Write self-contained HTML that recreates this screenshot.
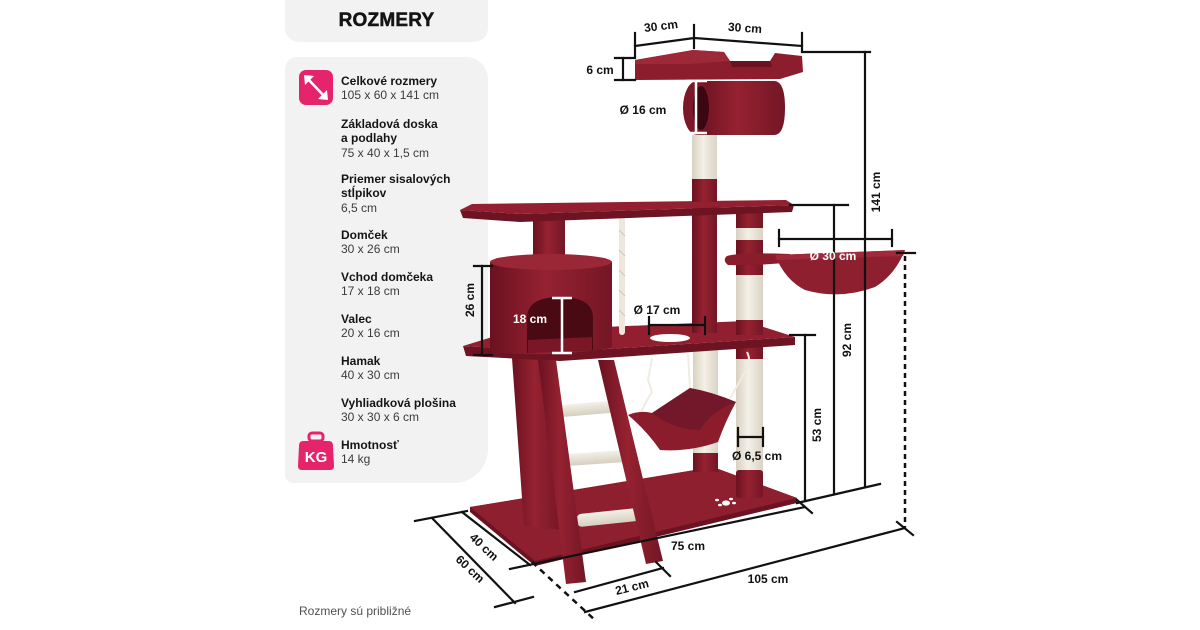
<!DOCTYPE html>
<html><head><meta charset="utf-8">
<style>
html,body{margin:0;padding:0;background:#fff;}
body{width:1200px;height:630px;position:relative;overflow:hidden;font-family:"Liberation Sans",Arial,sans-serif;}
.hdr{position:absolute;left:285px;top:-14px;width:203px;height:56px;background:#f2f2f2;border-radius:14px;}
.hdr span{position:absolute;left:0;right:0;top:24px;text-align:center;font-size:19px;font-weight:bold;color:#141414;letter-spacing:0.2px;-webkit-text-stroke:0.5px #141414;}
.panel{position:absolute;left:285px;top:57px;width:203px;height:426px;background:#f2f2f2;border-radius:12px 22px 34px 8px;}
.g{position:absolute;left:341px;font-size:12px;line-height:14.3px;}
.g b{display:block;color:#151515;font-weight:bold;}
.g i{display:block;font-style:normal;color:#3c3c3c;}
.foot{position:absolute;left:299px;top:604px;font-size:12px;color:#505050;}
svg{position:absolute;left:0;top:0;}
</style></head>
<body>
<div class="hdr"><span>ROZMERY</span></div>
<div class="panel"></div>

<div class="g" style="top:74px"><b>Celkové rozmery</b><i>105 x 60 x 141 cm</i></div>
<div class="g" style="top:117px"><b>Základová doska</b><b>a podlahy</b><i>75 x 40 x 1,5 cm</i></div>
<div class="g" style="top:172px"><b>Priemer sisalových</b><b>stĺpikov</b><i>6,5 cm</i></div>
<div class="g" style="top:228px"><b>Domček</b><i>30 x 26 cm</i></div>
<div class="g" style="top:270px"><b>Vchod domčeka</b><i>17 x 18 cm</i></div>
<div class="g" style="top:312px"><b>Valec</b><i>20 x 16 cm</i></div>
<div class="g" style="top:354px"><b>Hamak</b><i>40 x 30 cm</i></div>
<div class="g" style="top:396px"><b>Vyhliadková plošina</b><i>30 x 30 x 6 cm</i></div>
<div class="g" style="top:438px"><b>Hmotnosť</b><i>14 kg</i></div>
<div class="foot">Rozmery sú približné</div>

<svg width="1200" height="630" viewBox="0 0 1200 630" xmlns="http://www.w3.org/2000/svg">
<defs>
<linearGradient id="rc" x1="0" x2="1" y1="0" y2="0">
<stop offset="0" stop-color="#6a1120"/><stop offset="0.45" stop-color="#952231"/><stop offset="1" stop-color="#741625"/>
</linearGradient>
<linearGradient id="sc" x1="0" x2="1" y1="0" y2="0">
<stop offset="0" stop-color="#d8d1c2"/><stop offset="0.45" stop-color="#f4f0e7"/><stop offset="1" stop-color="#dad3c5"/>
</linearGradient>
<linearGradient id="rung" x1="0" x2="0" y1="0" y2="1">
<stop offset="0" stop-color="#f4f0e7"/><stop offset="1" stop-color="#d6cfc0"/>
</linearGradient>
</defs>

<!-- icons -->
<rect x="299" y="70" width="34" height="35" rx="7" fill="#e6246b"/>
<g stroke="#fff" stroke-width="2.6" fill="#fff" stroke-linecap="round">
<line x1="307" y1="78" x2="325" y2="97"/>
</g>
<polygon points="304,75 314,76 305,85" fill="#fff"/>
<polygon points="328,100 318,99 327,90" fill="#fff"/>
<rect x="309" y="433" width="14" height="8" rx="3" fill="none" stroke="#e6246b" stroke-width="3"/>
<path d="M303,441 L329,441 Q333,441 333,446 L334,466 Q334,470 330,470 L302,470 Q298,470 298,466 L299,446 Q299,441 303,441 Z" fill="#e6246b"/>
<text x="316" y="462" text-anchor="middle" font-family="Liberation Sans, sans-serif" font-weight="bold" font-size="15" fill="#fff">KG</text>

<!-- base -->
<path d="M470,507 L713,467 L797,498 L797,503 L535,566 L470,512 Z" fill="#6c1221"/>
<path d="M470,507 L713,467 L797,498 L535,561 Z" fill="#8d1f2e"/>
<g fill="#fff">
<ellipse cx="726" cy="503" rx="4" ry="2.6"/>
<ellipse cx="717" cy="500" rx="2" ry="1.3"/><ellipse cx="720" cy="505" rx="2" ry="1.3"/>
<ellipse cx="731" cy="499" rx="2" ry="1.3"/><ellipse cx="734" cy="503" rx="2" ry="1.3"/>
</g>

<!-- lower posts -->
<rect x="693" y="350" width="25" height="105" fill="url(#sc)"/>
<rect x="693" y="453" width="25" height="19" fill="url(#rc)"/>
<rect x="736" y="345" width="27" height="127" fill="url(#sc)"/>
<rect x="736" y="470" width="27" height="28" rx="3" fill="url(#rc)"/>
<rect x="736" y="345" width="27" height="14" fill="url(#rc)"/>

<!-- hammock strings -->
<g stroke="#f1ece2" stroke-width="2" fill="none">
<path d="M652,358 L648,380 L652,392 L646,402 L640,414"/>
<line x1="688" y1="354" x2="690" y2="390"/>
<path d="M747,352 Q752,362 745,372 L728,402"/>
</g>
<!-- hammock -->
<path d="M628,415 Q640,410 652,413 L690,388 Q712,392 736,402 Q726,420 718,442 Q690,452 660,450 Q646,430 628,415 Z" fill="#8a1c2b"/>
<path d="M652,413 L690,388 Q712,392 736,402 Q710,412 700,430 Q675,430 652,413 Z" fill="#73172a"/>

<!-- left leg -->
<path d="M512,358 L548,358 L562,530 L524,526 Z" fill="url(#rc)"/>

<!-- middle platform -->
<path d="M463,346 L560,352 L795,337 L795,345 L560,361 L466,356 Z" fill="#6e1322"/>
<path d="M463,346 L512,331 L745,321 L795,337 L560,352 Z" fill="#911f2f"/>
<ellipse cx="670" cy="338" rx="20" ry="4" fill="#fff"/>

<!-- main post & right striped post -->
<rect x="692" y="205" width="25" height="128" fill="url(#rc)"/>
<rect x="736" y="210" width="27" height="125" fill="url(#rc)"/>
<rect x="736" y="228" width="27" height="12" fill="url(#sc)"/>
<rect x="736" y="275" width="27" height="45" fill="url(#sc)"/>

<!-- rope -->
<rect x="619" y="217" width="6" height="118" rx="3" fill="#eee8dc"/>
<g stroke="#cfc6b4" stroke-width="1"><line x1="619" y1="230" x2="625" y2="236"/><line x1="619" y1="250" x2="625" y2="256"/><line x1="619" y1="270" x2="625" y2="276"/><line x1="619" y1="290" x2="625" y2="296"/><line x1="619" y1="310" x2="625" y2="316"/></g>

<!-- bowl shelf & bowl -->
<path d="M727,256 Q740,252 790,254 L792,262 Q760,266 728,265 Q722,260 727,256 Z" fill="#8a1c2b"/>
<path d="M775,255 L905,250 Q895,275 875,287 Q840,300 805,290 Q785,280 775,255 Z" fill="#8d1f2e"/>
<path d="M775,255 L905,250 L903,256 L777,260 Z" fill="#a02a3a"/>

<!-- house post & house -->
<rect x="533" y="215" width="32" height="48" fill="url(#rc)"/>
<path d="M490,262 L612,262 L612,348 Q551,358 490,352 Z" fill="url(#rc)"/>
<ellipse cx="551" cy="262" rx="61" ry="8" fill="#9a2736"/>
<path d="M527,353 L527,318 Q527,297 560,297 Q593,297 593,318 L593,350 Z" fill="#4a0a14"/>
<path d="M528,340 L592,337 L592,350 L528,353 Z" fill="#7a1626"/>

<!-- upper platform -->
<path d="M460,210 L520,214 L794,205 L792,212 L520,222 L463,218 Z" fill="#6e1322"/>
<path d="M460,210 L472,204 L786,200 L794,205 L520,214 Z" fill="#931f30"/>

<!-- post above upper platform -->
<rect x="692" y="178" width="25" height="24" fill="url(#rc)"/>
<rect x="692" y="135" width="25" height="44" fill="url(#sc)"/>

<!-- cylinder -->
<path d="M697,81 L774,81 Q785,81 785,108 Q785,135 774,135 L697,135 Z" fill="url(#rc)"/>
<ellipse cx="697" cy="108" rx="14" ry="27" fill="#7d1828"/>
<ellipse cx="701" cy="108" rx="8" ry="22" fill="#3c0710"/>

<!-- top platform -->
<path d="M635,60 L693,50 L724,52 L730,61 L770,61 L775,53 L802,56 L803,72 L780,79 L635,80 Z" fill="#8b1d2c"/>
<path d="M635,60 L693,50 L724,52 L730,61 L690,64 L635,64 Z" fill="#9c2838"/>
<path d="M730,61 L770,61 L772,67 L732,67 Z" fill="#6a1221"/>

<!-- ladder -->
<g transform="rotate(-5 585 409)"><rect x="553" y="403" width="64" height="12" rx="6" fill="url(#rung)"/></g>
<g transform="rotate(-4 596 458)"><rect x="565" y="452" width="62" height="12" rx="6" fill="url(#rung)"/></g>
<g transform="rotate(-6 608 517)"><rect x="576" y="511" width="64" height="13" rx="6" fill="url(#rung)"/></g>
<path d="M538,360 L556,360 L586,582 L566,584 Z" fill="url(#rc)"/>
<path d="M598,360 L614,360 L663,561 L646,564 Z" fill="url(#rc)"/>

<!-- dimension lines black -->
<g stroke="#111" stroke-width="2.2" fill="none" stroke-linecap="square">
<line x1="635" y1="33" x2="635" y2="56"/>
<line x1="694" y1="25" x2="694" y2="48"/>
<line x1="802" y1="33" x2="802" y2="51"/>
<line x1="635" y1="46" x2="694" y2="38"/>
<line x1="694" y1="38" x2="802" y2="46"/>
<line x1="802" y1="52" x2="870" y2="52"/>
<line x1="623" y1="58" x2="623" y2="80"/>
<line x1="615" y1="58" x2="635" y2="58"/>
<line x1="615" y1="80" x2="635" y2="80"/>
<line x1="865" y1="52" x2="865" y2="487"/>
<line x1="790" y1="205" x2="848" y2="205"/>
<line x1="834" y1="205" x2="834" y2="494"/>
<line x1="790" y1="335" x2="815" y2="335"/>
<line x1="805" y1="335" x2="805" y2="501"/>
<line x1="797" y1="503" x2="880" y2="484"/>
<line x1="779" y1="239" x2="892" y2="239"/>
<line x1="779" y1="230" x2="779" y2="246"/>
<line x1="892" y1="230" x2="892" y2="246"/>
<line x1="738" y1="437" x2="763" y2="437"/>
<line x1="738" y1="428" x2="738" y2="446"/>
<line x1="763" y1="428" x2="763" y2="446"/>
<line x1="649" y1="325" x2="705" y2="325"/>
<line x1="649" y1="317" x2="649" y2="334"/>
<line x1="705" y1="317" x2="705" y2="334"/>
<line x1="482" y1="266" x2="482" y2="355"/>
<line x1="474" y1="266" x2="492" y2="266"/>
<line x1="474" y1="355" x2="492" y2="355"/>
<line x1="897" y1="253" x2="915" y2="253"/>
<!-- bottom -->
<line x1="415" y1="521" x2="467" y2="511"/>
<line x1="462" y1="512" x2="530" y2="565"/>
<line x1="432" y1="518" x2="515" y2="603"/>
<line x1="495" y1="607" x2="533" y2="597"/>
<line x1="510" y1="569" x2="805" y2="507"/>
<line x1="797" y1="500" x2="812" y2="513"/>
<line x1="575" y1="592" x2="663" y2="568"/>
<line x1="656" y1="562" x2="670" y2="576"/>
<line x1="585" y1="612" x2="905" y2="528"/>
<line x1="897" y1="522" x2="913" y2="535"/>
</g>
<line x1="905" y1="256" x2="905" y2="527" stroke="#111" stroke-width="2.5" stroke-dasharray="5,4"/>
<line x1="532" y1="562" x2="596" y2="621" stroke="#111" stroke-width="2.5" stroke-dasharray="6,5"/>

<!-- white dim lines -->
<g stroke="#fff" stroke-width="2.5" fill="none">
<line x1="696" y1="81" x2="696" y2="133"/>
<line x1="686" y1="81" x2="707" y2="81"/>
<line x1="686" y1="133" x2="707" y2="133"/>
<line x1="562" y1="298" x2="562" y2="353"/>
<line x1="552" y1="298" x2="572" y2="298"/>
<line x1="552" y1="353" x2="572" y2="353"/>
</g>

<!-- labels -->
<g font-family="Liberation Sans, sans-serif" font-weight="bold" font-size="12" fill="#111" text-anchor="middle" dominant-baseline="central">
<text x="661" y="26" transform="rotate(-7 661 26)">30 cm</text>
<text x="745" y="28" transform="rotate(4 745 28)">30 cm</text>
<text x="600" y="70">6 cm</text>
<text x="643" y="110">Ø 16 cm</text>
<text x="876" y="192" transform="rotate(-90 876 192)">141 cm</text>
<text x="847" y="340" transform="rotate(-90 847 340)">92 cm</text>
<text x="817" y="425" transform="rotate(-90 817 425)">53 cm</text>
<text x="757" y="456">Ø 6,5 cm</text>
<text x="657" y="310">Ø 17 cm</text>
<text x="470" y="300" transform="rotate(-90 470 300)">26 cm</text>
<text x="688" y="546">75 cm</text>
<text x="768" y="579">105 cm</text>
<text x="632" y="587" transform="rotate(-14 632 587)">21 cm</text>
<text x="484" y="547" transform="rotate(43 484 547)">40 cm</text>
<text x="470" y="569" transform="rotate(43 470 569)">60 cm</text>
<text x="833" y="256" fill="#fff">Ø 30 cm</text>
<text x="530" y="319" fill="#fff">18 cm</text>
</g>
</svg>
</body></html>
